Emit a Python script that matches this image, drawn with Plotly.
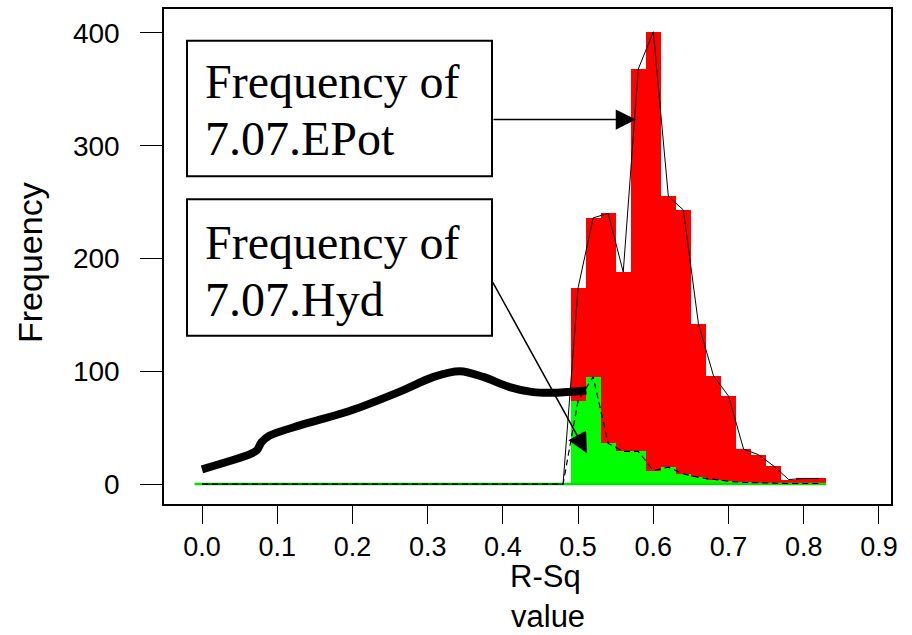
import plotly.graph_objects as go

# ---------------- data ----------------
bin_width = 0.02
bin_mids = [0.00, 0.02, 0.04, 0.06, 0.08, 0.10, 0.12, 0.14, 0.16, 0.18,
            0.20, 0.22, 0.24, 0.26, 0.28, 0.30, 0.32, 0.34, 0.36, 0.38,
            0.40, 0.42, 0.44, 0.46, 0.48, 0.50, 0.52, 0.54, 0.56, 0.58,
            0.60, 0.62, 0.64, 0.66, 0.68, 0.70, 0.72, 0.74, 0.76, 0.78,
            0.80, 0.82]
freq_epot = [0, 0, 0, 0, 0, 0, 0, 0, 0, 0,
             0, 0, 0, 0, 0, 0, 0, 0, 0, 0,
             0, 0, 0, 0, 0, 174, 236, 240, 188, 368,
             401, 255, 243, 142, 96, 78, 31, 26, 16, 4,
             5, 5]
freq_hyd = [0, 0, 0, 0, 0, 0, 0, 0, 0, 0,
            0, 0, 0, 0, 0, 0, 0, 0, 0, 0,
            0, 0, 0, 0, 0, 74, 95, 36, 29, 29,
            12, 15, 9, 6, 4, 2.5, 1.5, 1, 0.8, 0.5,
            0.5, 0.5]

curve_x = [0.0, 0.064, 0.073, 0.079, 0.090, 0.130, 0.197, 0.263, 0.308,
           0.343, 0.374, 0.409, 0.440, 0.470, 0.511]
curve_y = [13, 26.5, 30, 37, 43, 52, 65, 82, 95,
           100, 95, 86, 81.5, 81, 83]

x_ticks = [0.0, 0.1, 0.2, 0.3, 0.4, 0.5, 0.6, 0.7, 0.8, 0.9]
y_ticks = [0, 100, 200, 300, 400]

# --------------- layout helpers (pixel geometry) ---------------
W, H = 912, 635
L, R, T, B = 164, 891, 7, 504
X0, XS = 202.0, 752.2      # pixel of x=0, pixels per unit
Y0, YS = 484.0, 1.1325     # pixel of y=0, pixels per unit
xr = [(L - X0) / XS, (R - X0) / XS]
yr = [(Y0 - B) / YS, (Y0 - T) / YS]


def dx(px):
    return (px - X0) / XS


def dy(py):
    return (Y0 - py) / YS


def px_paper(px):
    return (px - L) / (R - L)


def py_paper(py):
    return (B - py) / (B - T)


SANS = "Liberation Sans, Arial, sans-serif"
SERIF = "Liberation Serif, Times New Roman, serif"

fig = go.Figure()

fig.add_trace(go.Bar(x=bin_mids, y=freq_epot, width=bin_width,
                     marker=dict(color="#FF0000", line=dict(width=0)),
                     showlegend=False))
fig.add_trace(go.Bar(x=bin_mids, y=freq_hyd, width=bin_width,
                     marker=dict(color="#00FF00", line=dict(width=0)),
                     showlegend=False))

# green zero-height baseline of the Hyd histogram
fig.add_trace(go.Scatter(x=[bin_mids[0] - bin_width / 2, bin_mids[-1] + bin_width / 2],
                         y=[0, 0], mode="lines",
                         line=dict(color="#00E000", width=2.5), showlegend=False))

# frequency polygons
fig.add_trace(go.Scatter(x=bin_mids, y=freq_epot, mode="lines",
                         line=dict(color="black", width=1), showlegend=False))
fig.add_trace(go.Scatter(x=bin_mids, y=freq_hyd, mode="lines",
                         line=dict(color="black", width=1.2, dash="6px,4px"),
                         showlegend=False))

# thick black curve
fig.add_trace(go.Scatter(x=curve_x, y=curve_y, mode="lines",
                         line=dict(color="black", width=8, shape="spline", smoothing=0.8),
                         showlegend=False))

# boxes
for (x1, y1, x2, y2) in [(187, 39, 492, 175), (187, 198, 492, 335)]:
    fig.add_shape(type="rect", xref="x", yref="y",
                  x0=dx(x1), x1=dx(x2), y0=dy(y1), y1=dy(y2),
                  line=dict(color="black", width=2), fillcolor="white")

box_lines = [("Frequency of", 80), ("7.07.EPot", 137),
             ("Frequency of", 241), ("7.07.Hyd", 299)]
for txt, cy in box_lines:
    fig.add_annotation(x=dx(204), y=dy(cy), xref="x", yref="y", text=txt,
                       showarrow=False, xanchor="left", yanchor="middle",
                       font=dict(family=SERIF, size=48, color="black"), borderpad=0)

# arrows
for (tx, ty, hx, hy) in [(492, 118, 636, 118), (492, 280, 587, 453)]:
    fig.add_annotation(x=dx(hx), y=dy(hy), ax=dx(tx), ay=dy(ty),
                       xref="x", yref="y", axref="x", ayref="y", text="",
                       showarrow=True, arrowhead=2, arrowsize=2.7, arrowwidth=1.5,
                       arrowcolor="black")

# axis titles
fig.add_annotation(x=px_paper(30), y=py_paper(262), xref="paper", yref="paper",
                   text="Frequency", textangle=-90, showarrow=False,
                   xanchor="center", yanchor="middle",
                   font=dict(family=SANS, size=34, color="black"))
fig.add_annotation(x=px_paper(545), y=py_paper(577), xref="paper", yref="paper",
                   text="R-Sq", showarrow=False, xanchor="center", yanchor="middle",
                   font=dict(family=SANS, size=31, color="black"))
fig.add_annotation(x=px_paper(548), y=py_paper(617), xref="paper", yref="paper",
                   text="value", showarrow=False, xanchor="center", yanchor="middle",
                   font=dict(family=SANS, size=31, color="black"))

fig.update_layout(
    width=W, height=H,
    margin=dict(l=L, r=W - R, t=T, b=H - B, pad=0),
    paper_bgcolor="white", plot_bgcolor="white",
    barmode="overlay", bargap=0,
    xaxis=dict(range=xr, tickvals=x_ticks, ticktext=[f"{v:.1f}" for v in x_ticks],
               showgrid=False, zeroline=False, showline=True, mirror=True,
               linecolor="black", linewidth=1.5, ticks="outside", ticklen=18,
               tickcolor="black", tickwidth=1, ticklabelstandoff=0,
               tickfont=dict(family=SANS, size=27, color="black")),
    yaxis=dict(range=yr, tickvals=y_ticks, showgrid=False, zeroline=False,
               showline=True, mirror=True, linecolor="black", linewidth=1.5,
               ticks="outside", ticklen=22, tickcolor="black", tickwidth=1,
               ticklabelstandoff=15,
               tickfont=dict(family=SANS, size=28, color="black")),
)

fig.write_html("out.html", config={"displayModeBar": False},
               post_script="document.body.style.margin='0';"
                           "document.body.style.overflow='hidden';")
